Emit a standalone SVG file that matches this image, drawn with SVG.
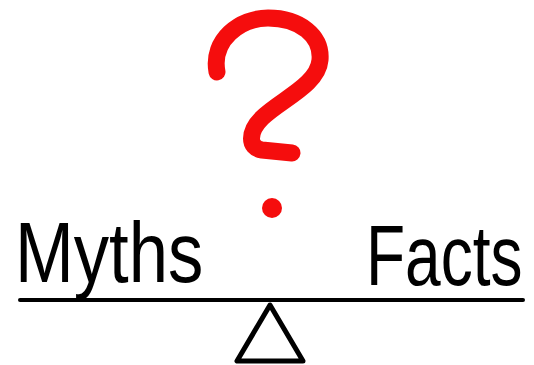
<svg xmlns="http://www.w3.org/2000/svg" width="534" height="365" viewBox="0 0 534 365">
<style>
.lbl{font-family:"Liberation Sans","DejaVu Sans",sans-serif;font-size:66px;fill:#000}
.ink{fill:none;stroke:#000;stroke-linecap:round;stroke-linejoin:round}
</style>
<rect width="534" height="365" fill="#fff"/>
<g id="question">
<path d="M217,72 C211,40 240,18 268,18 C300,18 322,36 320,60 C318,85 280,100 262,118 C248,132 248,148 262,150 L292,153" fill="none" stroke="#f50d0d" stroke-width="17" stroke-linecap="round" stroke-linejoin="round"/>
<circle cx="272" cy="208" r="10" fill="#f50d0d"/>
</g>
<g id="myths"><text class="lbl" transform="translate(15,282) scale(1.07,1.28)">Myths</text></g>
<g id="facts"><text class="lbl" transform="translate(366,285) scale(0.97,1.28)">Facts</text></g>
<g id="scale">
<line class="ink" x1="20" y1="300" x2="523" y2="300" stroke-width="4"/>
<path class="ink" d="M270,305 L237,361 L303,361 Z" stroke-width="5"/>
</g>
</svg>
